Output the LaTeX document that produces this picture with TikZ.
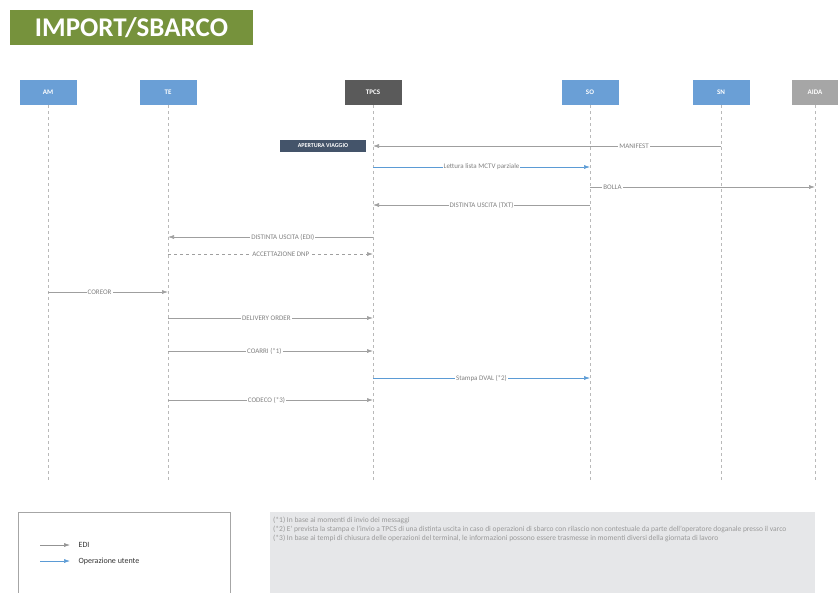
\documentclass[tikz,border=0pt]{standalone}
\usepackage{fontspec}
\setmainfont{Carlito}
\usetikzlibrary{arrows.meta}

\definecolor{titlegreen}{HTML}{76923C}
\definecolor{actorblue}{HTML}{6A9FD6}
\definecolor{tpcsgray}{HTML}{5A5A5A}
\definecolor{aidagray}{HTML}{A6A6A6}
\definecolor{slate}{HTML}{44546A}
\definecolor{msgblue}{HTML}{5B9BD5}
\definecolor{notegray}{HTML}{E6E7E9}

\tikzset{
  actor/.style={fill=actorblue, minimum width=57pt, minimum height=25pt,
    text=white, font=\fontsize{7}{8}\selectfont\bfseries},
  lifeline/.style={gray!55, dashed, dash pattern=on 3pt off 3pt, line width=0.5pt},
  edi/.style={gray!75, line width=0.6pt, -{Latex[length=6pt,width=4pt]}},
  userop/.style={msgblue, line width=0.6pt, -{Latex[length=6pt,width=4pt]}},
  lbl/.style={fill=white, inner sep=1pt, text=gray, font=\fontsize{7}{8}\selectfont},
}

\begin{document}
\begin{tikzpicture}[x=1pt, y=-1pt]
    \useasboundingbox (0,0) rectangle (838,592);

    % Title
    \node[fill=titlegreen, minimum width=243pt, minimum height=35pt, text=white,
      font=\fontsize{27}{30}\selectfont\bfseries] (title) at (131.5,27.5) {IMPORT/SBARCO};

    % Actors
    \node[actor] (am) at (48,92.5) {AM};
    \node[actor] (te) at (168,92.5) {TE};
    \node[actor, fill=tpcsgray] (tpcs) at (373,92.5) {TPCS};
    \node[actor] (so) at (590,92.5) {SO};
    \node[actor] (sn) at (721,92.5) {SN};
    \node[actor, fill=aidagray, minimum width=46pt] (aida) at (815,92.5) {AIDA};

    % Lifelines
    \foreach \l in {am,te,tpcs,so,sn,aida} {
      \coordinate (\l-end) at (\l |- 0,480);
      \draw[lifeline] (\l.south) -- (\l-end);
    }

    % Message rows
    \foreach \n/\y in {1/146,2/167,3/187,4/205,5/237,6/254,7/292,8/318,9/351,10/378,11/400}
    \foreach \l in {am,te,tpcs,so,sn,aida}
      \coordinate (\l\n) at (\l |- 0,\y);

    % Voyage opening
    \node[fill=slate, text=white, minimum width=86pt, minimum height=12pt, inner sep=0pt,
      font=\fontsize{6}{7}\selectfont\bfseries] (apertura) at (323,146) {APERTURA VIAGGIO};

    \draw[edi] (sn1) -- (tpcs1) node[lbl, pos=0.25] {MANIFEST};
    \draw[userop] (tpcs2) -- (so2) node[lbl, midway] {Lettura lista MCTV parziale};
    \draw[edi] (so3) -- (aida3) node[lbl, pos=0.1] {BOLLA};
    \draw[edi] (so4) -- (tpcs4) node[lbl, midway] {DISTINTA USCITA (TXT)};
    \draw[edi] (tpcs5) -- (te5) node[lbl, pos=0.44] {DISTINTA USCITA (EDI)};
    \draw[edi, dashed] (te6) -- (tpcs6) node[lbl, pos=0.55] {ACCETTAZIONE DNP};
    \draw[edi] (am7) -- (te7) node[lbl, pos=0.43] {COREOR};
    \draw[edi] (te8) -- (tpcs8) node[lbl, pos=0.48] {DELIVERY ORDER};
    \draw[edi] (te9) -- (tpcs9) node[lbl, pos=0.47] {COARRI (*1)};
    \draw[userop] (tpcs10) -- (so10) node[lbl, midway] {Stampa DVAL (*2)};
    \draw[edi] (te11) -- (tpcs11) node[lbl, pos=0.48] {CODECO (*3)};

    % Legend
    \draw[gray!70, line width=0.6pt] (18,600) -- (18,512) -- (230,512) -- (230,600);
    \coordinate (edi-a) at (40,545);
    \coordinate (edi-b) at (70,545);
    \coordinate (op-a) at (40,561);
    \coordinate (op-b) at (70,561);
    \draw[edi, gray!85] (edi-a) -- (edi-b) node[right=5pt, text=black!80,
      font=\fontsize{8}{9}\selectfont] (edi-txt) {EDI};
    \draw[userop] (op-a) -- (op-b) node[right=5pt, text=black!80,
      font=\fontsize{8}{9}\selectfont] (op-txt) {Operazione utente};

    % Notes
    \fill[notegray] (270,512) rectangle (815,600);
    \node[anchor=north west, text=gray!80, inner sep=0pt, align=left,
      font=\fontsize{7.5}{9}\selectfont] (notes) at (273,517) {%
      (*1) In base ai momenti di invio dei messaggi\\
      (*2) E' prevista la stampa e l'invio a TPCS di una distinta uscita in caso di operazioni di sbarco con rilascio non contestuale da parte dell'operatore doganale presso il varco\\
      (*3) In base ai tempi di chiusura delle operazioni del terminal, le informazioni possono essere trasmesse in momenti diversi della giornata di lavoro};
  \end{tikzpicture}
\end{document}
